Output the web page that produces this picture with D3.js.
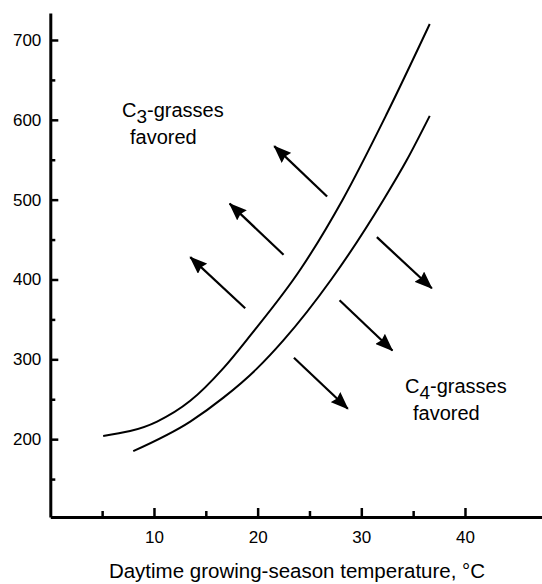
<!DOCTYPE html>
<html>
<head>
<meta charset="utf-8">
<script src="https://cdn.jsdelivr.net/npm/d3@7"></script>
<style>
  body { margin: 0; background: #fff; }
  svg { display: block; font-family: "Liberation Sans", Arial, Helvetica, sans-serif; }
</style>
</head>
<body>
<div id="chart"></div>
<script>
// boundary curves (temperature °C, CO2 ppm)
const upperTemp = [5.1, 10.3, 13.5, 16.7, 19.3, 24.2, 28.2, 32.4, 36.6]
const upperCO2 = [204, 222, 248, 289, 330, 414, 500, 606, 720]
const lowerTemp = [8.0, 13.5, 16.7, 19.9, 22.5, 27.1, 32.1, 34.4, 36.6]
const lowerCO2 = [185, 222, 252, 288, 324, 400, 499, 550, 605]

// arrows: [fromTemp, fromCO2, toTemp, toCO2]
const c3Arrows = [
  [26.7, 504, 21.6, 567],
  [22.5, 431, 17.3, 495],
  [18.8, 364, 13.5, 428]
]
const c4Arrows = [
  [31.5, 453, 36.8, 389],
  [27.9, 374, 33.0, 311],
  [23.5, 302, 28.7, 238]
]

const xMajor = [10, 20, 30, 40]
const xMinor = [5, 15, 25, 35]
const yMajor = [200, 300, 400, 500, 600, 700]
const yMinor = [150, 250, 350, 450, 550, 650]

const width = 542
const height = 584

const svg = d3.select('#chart').append('svg')
  .attr('width', width)
  .attr('height', height)

const x = d3.scaleLinear().domain([0, 47.4]).range([50.3, 541.7])
const y = d3.scaleLinear().domain([102.5, 733.8]).range([517, 13])

svg.append('defs').append('marker')
  .attr('id', 'head')
  .attr('markerUnits', 'userSpaceOnUse')
  .attr('viewBox', '0 0 18 14')
  .attr('refX', 17)
  .attr('refY', 7)
  .attr('markerWidth', 18)
  .attr('markerHeight', 14)
  .attr('orient', 'auto')
  .append('path')
  .attr('d', 'M0,0 L18,7 L0,14 L2,7 Z')
  .attr('fill', '#000')

// minor ticks
svg.append('g')
  .attr('transform', `translate(0,${y.range()[0]})`)
  .call(d3.axisBottom(x).tickValues(xMinor).tickSize(-6).tickFormat(''))
  .call(g => g.select('.domain').remove())
  .selectAll('line').attr('stroke-width', 2.5)

svg.append('g')
  .attr('transform', `translate(${x.range()[0]},0)`)
  .call(d3.axisLeft(y).tickValues(yMinor).tickSize(-5).tickFormat(''))
  .call(g => g.select('.domain').remove())
  .selectAll('line').attr('stroke-width', 2.5)

// major ticks + labels
const xAxis = svg.append('g')
  .attr('transform', `translate(0,${y.range()[0]})`)
  .call(d3.axisBottom(x).tickValues(xMajor).tickSizeInner(-9).tickSizeOuter(0).tickPadding(14))
xAxis.selectAll('line').attr('stroke-width', 2.5)
xAxis.select('.domain').attr('stroke-width', 3)
xAxis.selectAll('text').style('font-size', '17px').attr('fill', '#000')

const yAxis = svg.append('g')
  .attr('transform', `translate(${x.range()[0]},0)`)
  .call(d3.axisLeft(y).tickValues(yMajor).tickSizeInner(-8).tickSizeOuter(0).tickPadding(9))
yAxis.selectAll('line').attr('stroke-width', 2.5)
yAxis.select('.domain').attr('stroke-width', 3)
yAxis.selectAll('text').style('font-size', '17px').attr('fill', '#000')

// boundary curves
const line = d3.line()
  .x(d => x(d[0]))
  .y(d => y(d[1]))
  .curve(d3.curveMonotoneX)

svg.append('path')
  .datum(d3.zip(upperTemp, upperCO2))
  .attr('d', line)
  .attr('fill', 'none')
  .attr('stroke', '#000')
  .attr('stroke-width', 2)

svg.append('path')
  .datum(d3.zip(lowerTemp, lowerCO2))
  .attr('d', line)
  .attr('fill', 'none')
  .attr('stroke', '#000')
  .attr('stroke-width', 2)

// arrows
svg.append('g')
  .selectAll('line')
  .data(c3Arrows.concat(c4Arrows))
  .join('line')
  .attr('x1', d => x(d[0]))
  .attr('y1', d => y(d[1]))
  .attr('x2', d => x(d[2]))
  .attr('y2', d => y(d[3]))
  .attr('stroke', '#000')
  .attr('stroke-width', 2.2)
  .attr('marker-end', 'url(#head)')

// region labels
function regionLabel(px, py, sub) {
  const t = svg.append('text').attr('x', px).attr('y', py).style('font-size', '20px').attr('fill', '#000')
  t.append('tspan').text('C')
  t.append('tspan').attr('dy', 6).style('font-size', '19px').text(sub)
  t.append('tspan').attr('dy', -6).text('-grasses')
  svg.append('text').attr('x', px + 8).attr('y', py + 27).style('font-size', '20px').attr('fill', '#000').text('favored')
}
regionLabel(122, 117, '3')
regionLabel(405, 393, '4')

svg.append('text')
  .attr('x', 297)
  .attr('y', 578)
  .attr('text-anchor', 'middle')
  .style('font-size', '20.5px')
  .attr('fill', '#000')
  .text('Daytime growing-season temperature, °C')
</script>
</body>
</html>
